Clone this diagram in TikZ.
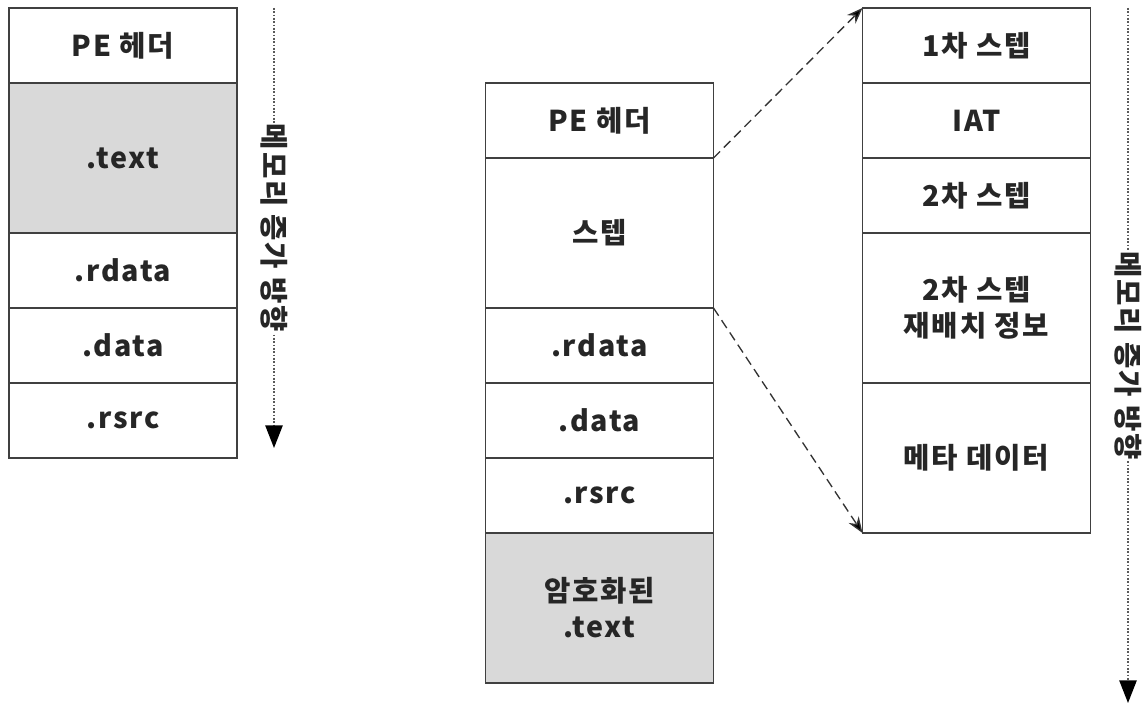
\documentclass[tikz,border=0pt]{standalone}
\usepackage{fontspec}
\newfontfamily\krfont{Noto Sans CJK KR}[LetterSpace=6]
\usetikzlibrary{positioning,arrows.meta}

\tikzset{
  cell/.style={draw=black!75, line width=1.3pt, minimum width=171pt,
    minimum height=56.25pt, inner sep=0pt, outer sep=0pt, align=center,
    text=black!85, font=\krfont\bfseries\fontsize{21.5}{27}\selectfont},
  tall/.style={minimum height=112.5pt},
  shaded/.style={fill=black!15},
  zoomline/.style={draw=black!80, line width=1pt, dash pattern=on 7pt off 4pt,
    -{Stealth[length=12pt,width=9pt,fill=black]}},
  memline/.style={draw=black!65, line width=1.2pt, dash pattern=on 1.2pt off 1.3pt,
    -{Triangle[length=17pt,width=13pt,fill=black,color=black]}},
  memlabel/.style={fill=white, inner sep=1pt, rotate=-90, text=black!85,
    font=\krfont\bfseries\fontsize{21.5}{27}\selectfont}
}

\begin{document}
\begin{tikzpicture}[x=0.75pt,y=-0.75pt]
  \useasboundingbox (0,0) rectangle (1146,706);
  % original file
  \node[cell,anchor=north] (lhdr) at (123,8) {PE 헤더};
  \node[cell,tall,shaded,below=0pt of lhdr] (ltext) {.text};
  \node[cell,below=0pt of ltext] (lrdata) {.rdata};
  \node[cell,below=0pt of lrdata] (ldata) {.data};
  \node[cell,below=0pt of ldata] (lrsrc) {.rsrc};
  % packed file
  \node[cell,anchor=north] (mhdr) at (599.5,83) {PE 헤더};
  \node[cell,tall,below=0pt of mhdr] (mstub) {스텝};
  \node[cell,below=0pt of mstub] (mrdata) {.rdata};
  \node[cell,below=0pt of mrdata] (mdata) {.data};
  \node[cell,below=0pt of mdata] (mrsrc) {.rsrc};
  \node[cell,tall,shaded,below=0pt of mrsrc] (menc) {암호화된\\.text};
  % stub detail
  \node[cell,anchor=north] (rstub1) at (976.5,8) {1차 스텝};
  \node[cell,below=0pt of rstub1] (riat) {IAT};
  \node[cell,below=0pt of riat] (rstub2) {2차 스텝};
  \node[cell,tall,below=0pt of rstub2] (rreloc) {2차 스텝\\재배치 정보};
  \node[cell,tall,below=0pt of rreloc] (rmeta) {메타 데이터};
  \draw[zoomline] (mstub.north east) -- (rstub1.north west);
  \draw[zoomline] (mstub.south east) -- (rmeta.south west);
  % memory direction
  \coordinate (ltop) at (274,8);
  \coordinate (lbot) at (274,448);
  \coordinate (rtop) at (1128,8);
  \coordinate (rbot) at (1128,703);
  \foreach \a/\b in {ltop/lbot,rtop/rbot}
    \draw[memline] (\a) -- (\b) node[memlabel,midway] {메모리 증가 방향};
\end{tikzpicture}
\end{document}
